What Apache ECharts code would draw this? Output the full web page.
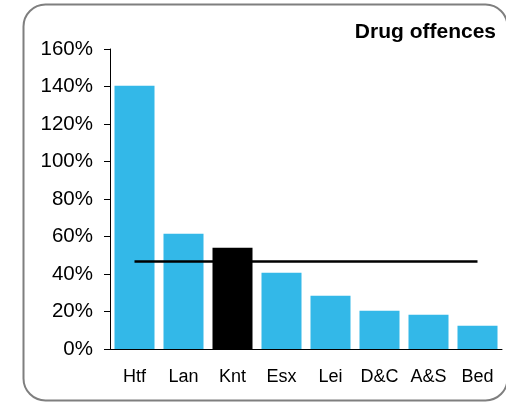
<!DOCTYPE html>
<html>
<head>
<meta charset="utf-8">
<script src="https://cdn.jsdelivr.net/npm/echarts@6/dist/echarts.min.js"></script>
<style>
html,body{margin:0;padding:0;background:#fff;}
#c{width:506px;height:402px;}
</style>
</head>
<body>
<div id="c"></div>
<script>
const categories = ['Htf','Lan','Knt','Esx','Lei','D&C','A&S','Bed'];
const values = [140.4, 61.5, 54, 40.7, 28.4, 20.4, 18.3, 12.4];
const highlight = 'Knt';
const average = [46.7, 46.7, 46.7, 46.7, 46.7, 46.7, 46.7, 46.7];
const yTicks = [0, 20, 40, 60, 80, 100, 120, 140, 160];
const title = 'Drug offences';

const chart = echarts.init(document.getElementById('c'), null, {renderer: 'canvas'});
const font = 'Liberation Sans, Arial, sans-serif';
chart.setOption({
  animation: false,
  backgroundColor: '#fff',
  title: {
    text: title, right: 10, top: 22, padding: 0,
    textStyle: {fontFamily: font, fontSize: 21, fontWeight: 'bold', color: '#000'}
  },
  graphic: [{
    type: 'rect', silent: true, z: -10,
    shape: {x: 23.5, y: 4.5, width: 484, height: 396, r: 22},
    style: {fill: 'none', stroke: '#7f7f7f', lineWidth: 2}
  }],
  grid: {left: 110, right: 4, top: 49, bottom: 53, containLabel: false},
  xAxis: {
    type: 'category', data: categories,
    axisLine: {lineStyle: {color: '#000', width: 1}},
    axisTick: {show: false},
    axisLabel: {fontFamily: font, fontSize: 18, color: '#000', margin: 19, interval: 0}
  },
  yAxis: {
    type: 'value', min: yTicks[0], max: yTicks[yTicks.length - 1], interval: 20,
    axisLine: {show: true, lineStyle: {color: '#000', width: 1}},
    axisTick: {show: true, length: 6, lineStyle: {color: '#000'}},
    splitLine: {show: false},
    axisLabel: {fontFamily: font, fontSize: 20.5, color: '#000', margin: 17, formatter: v => v + '%'}
  },
  series: [{
    type: 'bar',
    data: values.map((v, i) => categories[i] === highlight ? {value: v, itemStyle: {color: '#000'}} : v),
    itemStyle: {color: '#33b8e8'},
    barWidth: 40
  }, {
    type: 'line',
    data: average,
    symbol: 'none',
    lineStyle: {color: '#000', width: 2.5},
    z: 5
  }]
});
</script>
</body>
</html>
